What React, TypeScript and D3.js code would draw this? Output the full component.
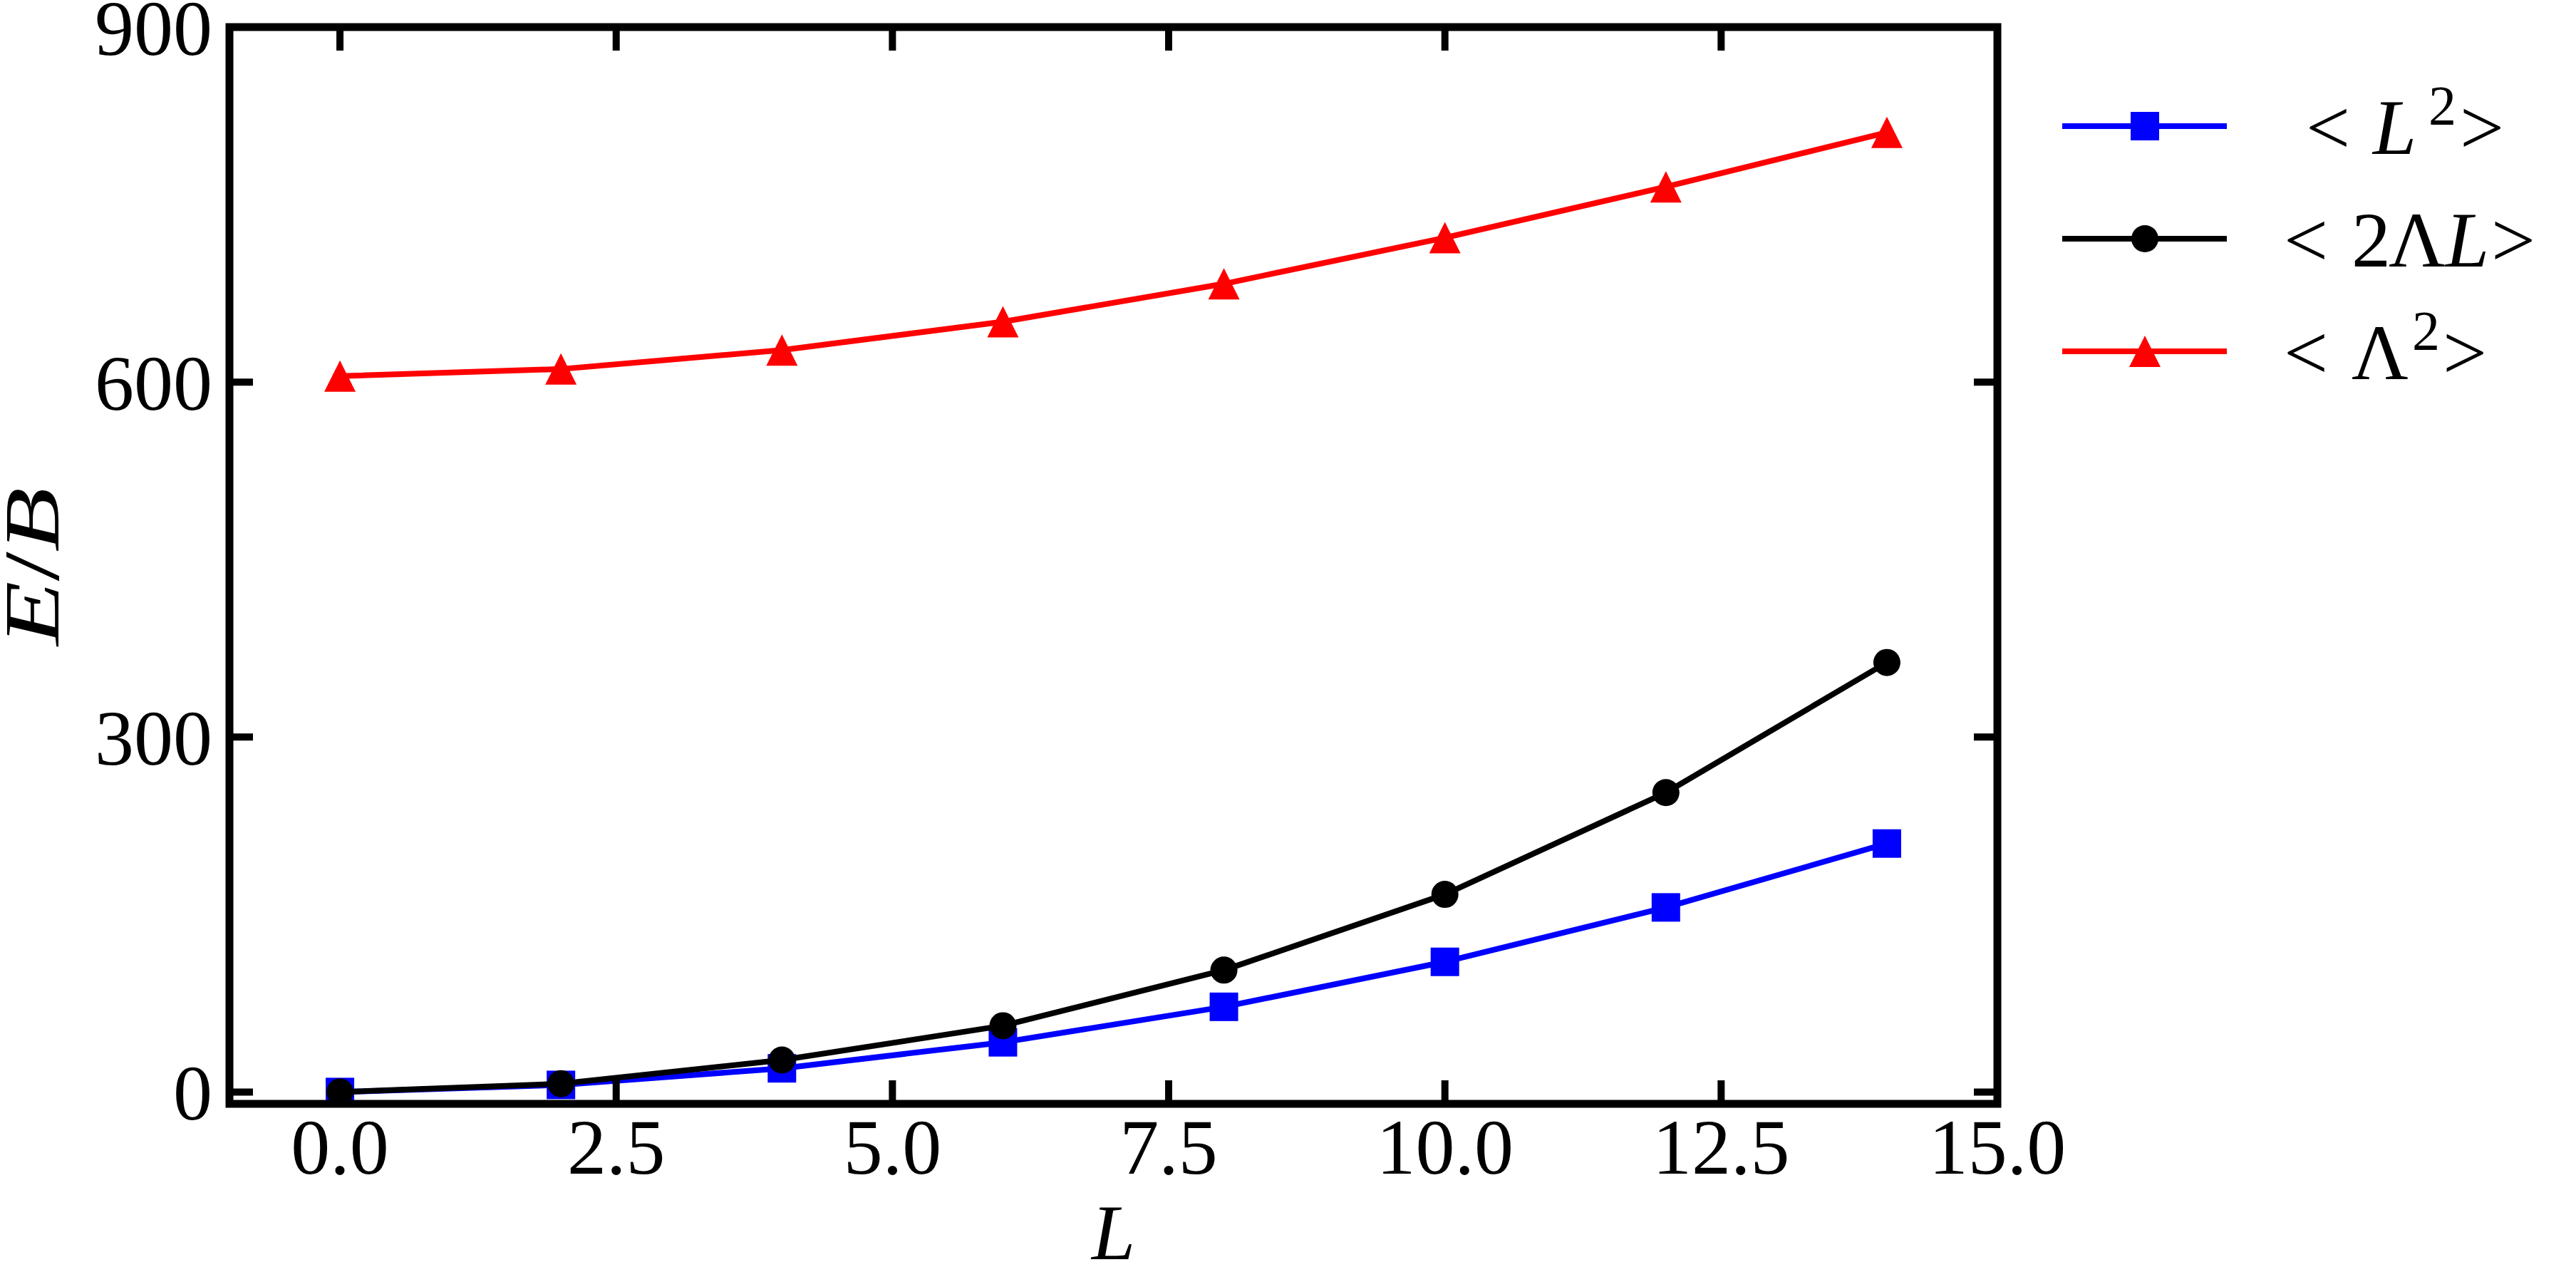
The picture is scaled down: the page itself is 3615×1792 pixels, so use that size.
import React, { useEffect, useRef } from 'react';
import * as d3 from 'd3';

// L values (x axis)
const lValues = [0, 2, 4, 6, 8, 10, 12, 14];

// series values
const l2Values = [0, 6, 20, 42, 72, 110, 156, 210];
const lambdaLValues = [0, 7, 27, 56, 103, 167, 253, 363];
const lambda2Values = [605, 611, 627, 651, 683, 722, 765, 811];

const xTicks = [0, 2.5, 5, 7.5, 10, 12.5, 15];
const yTicks = [0, 300, 600, 900];

const WIDTH = 3615;
const HEIGHT = 1792;
const FONT = '"Liberation Serif", "Times New Roman", serif';
const FS = 110;

type Marker = 'square' | 'circle' | 'triangle';

const series: { key: string; values: number[]; color: string; marker: Marker }[] = [
  { key: 'L2', values: l2Values, color: '#0000ff', marker: 'square' },
  { key: '2LL', values: lambdaLValues, color: '#000000', marker: 'circle' },
  { key: 'La2', values: lambda2Values, color: '#ff0000', marker: 'triangle' },
];

// draws one marker centred at (cx, cy)
function drawMarker(g: d3.Selection<SVGGElement, unknown, null, undefined>, m: Marker, cx: number, cy: number, color: string) {
  if (m === 'square') {
    g.append('rect')
      .attr('x', cx - 20).attr('y', cy - 20)
      .attr('width', 40).attr('height', 40)
      .attr('fill', color);
  } else if (m === 'circle') {
    g.append('circle')
      .attr('cx', cx).attr('cy', cy).attr('r', 19)
      .attr('fill', color);
  } else {
    g.append('path')
      .attr('d', `M${cx},${cy - 22}L${cx + 22},${cy + 22}L${cx - 22},${cy + 22}Z`)
      .attr('fill', color);
  }
}

const App: React.FC = () => {
  const svgRef = useRef<SVGSVGElement>(null);

  useEffect(() => {
    if (!svgRef.current) return;
    const svg = d3.select(svgRef.current);
    svg.selectAll('*').remove();

    const left = 322, right = 2803, top = 38, bottom = 1549;

    const x = d3.scaleLinear().domain([-1, 15]).range([left, right]);
    const y = d3.scaleLinear().domain([-10, 900]).range([bottom, top]);

    svg.append('rect')
      .attr('width', WIDTH).attr('height', HEIGHT).attr('fill', '#fff');

    // data lines + markers
    const plot = svg.append('g');
    const line = d3.line<number>()
      .x((_, i) => x(lValues[i]))
      .y(d => y(d));

    series.forEach(s => {
      const g = plot.append('g');
      g.append('path')
        .datum(s.values)
        .attr('d', line)
        .attr('fill', 'none')
        .attr('stroke', s.color)
        .attr('stroke-width', 8)
        .attr('stroke-linejoin', 'round');
      s.values.forEach((v, i) => drawMarker(g as any, s.marker, x(lValues[i]), y(v), s.color));
    });

    // ticks (inward, all four sides)
    const tickLen = 33;
    const ticks = svg.append('g').attr('stroke', '#000').attr('stroke-width', 10);
    xTicks.forEach(t => {
      ticks.append('line').attr('x1', x(t)).attr('x2', x(t)).attr('y1', bottom).attr('y2', bottom - tickLen);
      ticks.append('line').attr('x1', x(t)).attr('x2', x(t)).attr('y1', top).attr('y2', top + tickLen);
    });
    yTicks.forEach(t => {
      ticks.append('line').attr('x1', left).attr('x2', left + tickLen).attr('y1', y(t)).attr('y2', y(t));
      ticks.append('line').attr('x1', right).attr('x2', right - tickLen).attr('y1', y(t)).attr('y2', y(t));
    });

    // frame
    svg.append('rect')
      .attr('x', left).attr('y', top)
      .attr('width', right - left).attr('height', bottom - top)
      .attr('fill', 'none')
      .attr('stroke', '#000')
      .attr('stroke-width', 11);

    // tick labels
    svg.append('g')
      .selectAll('text')
      .data(xTicks)
      .join('text')
      .attr('x', d => x(d))
      .attr('y', 1647)
      .attr('text-anchor', 'middle')
      .style('font-family', FONT)
      .style('font-size', `${FS}px`)
      .text(d => d3.format('.1f')(d));

    svg.append('g')
      .selectAll('text')
      .data(yTicks)
      .join('text')
      .attr('x', 298)
      .attr('y', d => y(d) + 39)
      .attr('text-anchor', 'end')
      .style('font-family', FONT)
      .style('font-size', `${FS}px`)
      .text(d => String(d));

    // axis labels
    svg.append('text')
      .attr('x', (left + right) / 2)
      .attr('y', 1767)
      .attr('text-anchor', 'middle')
      .style('font-family', FONT)
      .style('font-size', `${FS}px`)
      .style('font-style', 'italic')
      .text('L');

    const yl = svg.append('text')
      .attr('transform', 'translate(82,795) rotate(-90)')
      .attr('text-anchor', 'middle')
      .attr('textLength', 222)
      .attr('lengthAdjust', 'spacingAndGlyphs')
      .style('font-family', FONT)
      .style('font-size', `${FS}px`);
    yl.append('tspan').style('font-style', 'italic').text('E');
    yl.append('tspan').text('/');
    yl.append('tspan').style('font-style', 'italic').text('B');

    // legend
    const legendRows: { s: number; pieces: { t: string; x: number; it?: boolean; sup?: boolean }[] }[] = [
      { s: 0, pieces: [
        { t: '<', x: 3236 }, { t: 'L', x: 3330, it: true }, { t: '2', x: 3408, sup: true }, { t: '>', x: 3452 },
      ] },
      { s: 1, pieces: [
        { t: '<', x: 3205 }, { t: '2', x: 3300 }, { t: 'Λ', x: 3352 }, { t: 'L', x: 3432, it: true }, { t: '>', x: 3496 },
      ] },
      { s: 2, pieces: [
        { t: '<', x: 3205 }, { t: 'Λ', x: 3300 }, { t: '2', x: 3385, sup: true }, { t: '>', x: 3428 },
      ] },
    ];
    const rowY = [177, 335, 493];
    const legend = svg.append('g');
    legendRows.forEach((row, i) => {
      const s = series[row.s];
      const cy = rowY[i];
      legend.append('line')
        .attr('x1', 2894).attr('x2', 3125)
        .attr('y1', cy).attr('y2', cy)
        .attr('stroke', s.color)
        .attr('stroke-width', 8);
      drawMarker(legend as any, s.marker, 3010, cy, s.color);
      row.pieces.forEach(p => {
        legend.append('text')
          .attr('x', p.x)
          .attr('y', p.sup ? cy - 3 : cy + 39)
          .style('font-family', FONT)
          .style('font-size', p.sup ? '78px' : `${FS}px`)
          .style('font-style', p.it ? 'italic' : 'normal')
          .text(p.t);
      });
    });
  }, []);

  return (
    <svg
      ref={svgRef}
      width={WIDTH}
      height={HEIGHT}
      style={{ position: 'absolute', left: 0, top: 0, display: 'block' }}
    />
  );
};

export default App;
